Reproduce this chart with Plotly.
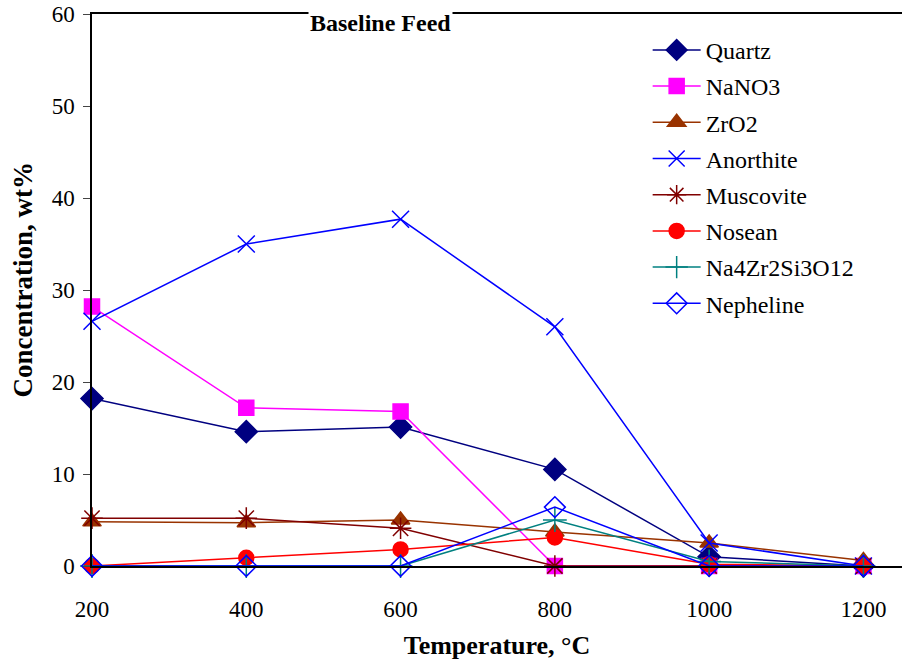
import plotly.graph_objects as go

temps = [200, 400, 600, 800, 1000, 1200]
quartz = [18.2, 14.6, 15.1, 10.5, 1.0, 0.0]
nano3 = [28.2, 17.2, 16.8, 0.0, 0.0, 0.0]
zro2 = [4.8, 4.7, 5.0, 3.7, 2.5, 0.6]
anorthite = [26.6, 35.0, 37.7, 26.0, 2.5, 0.0]
muscovite = [5.2, 5.2, 4.1, 0.0, 0.0, 0.0]
nosean = [0.0, 0.9, 1.8, 3.1, 0.2, 0.0]
na4zr = [0.0, 0.0, 0.0, 5.0, 0.5, 0.0]
nepheline = [0.0, 0.0, 0.0, 6.4, 0.0, 0.0]

series = [
    ("Quartz", quartz, "#000080", "diamond", 17, "#000080"),
    ("NaNO3", nano3, "#FF00FF", "square", 15, "#FF00FF"),
    ("ZrO2", zro2, "#993300", "triangle-up", 16, "#993300"),
    ("Anorthite", anorthite, "#0000FF", "x-thin", 17, "#0000FF"),
    ("Muscovite", muscovite, "#800000", "asterisk", 18, "#800000"),
    ("Nosean", nosean, "#FF0000", "circle", 15, "#FF0000"),
    ("Na4Zr2Si3O12", na4zr, "#008080", "cross-thin", 17, "#008080"),
    ("Nepheline", nepheline, "#0000FF", "diamond-open", 16, "#0000FF"),
]

fig = go.Figure()
for i, (name, vals, col, sym, size, mcol) in enumerate(series):
    fig.add_trace(go.Scatter(
        x=temps, y=vals, name=name, mode="lines+markers",
        legendgroup=f"g{i}", cliponaxis=False,
        line=dict(color=col, width=1.5),
        marker=dict(symbol=sym, size=size, color=mcol,
                    line=dict(color=mcol, width=1.5)),
    ))

font = "Liberation Serif"
fig.update_layout(
    width=902, height=666,
    margin=dict(l=92, r=0, t=14, b=100),
    paper_bgcolor="white", plot_bgcolor="white",
    font=dict(family=font, size=23, color="black"),
    showlegend=True,
    legend=dict(x=0.686, y=0.975, xanchor="left", yanchor="top",
                bgcolor="rgba(0,0,0,0)", font=dict(family=font, size=24),
                tracegroupgap=2, itemwidth=48),
    xaxis=dict(range=[200, 1250], tickvals=temps, ticks="",
               showline=True, linecolor="black", linewidth=1.5, mirror=True,
               showgrid=False, zeroline=False, ticklabelstandoff=22,
               tickfont=dict(family=font, size=23),
               title=dict(text="<b>Temperature, °C</b>", font=dict(family=font, size=26), standoff=14)),
    yaxis=dict(range=[0, 60], dtick=10, ticks="outside", ticklen=7,
               showline=True, linecolor="black", linewidth=1.5,
               showgrid=False, zeroline=False, ticklabelstandoff=4,
               tickfont=dict(family=font, size=23)),
    annotations=[
        dict(text="<b>Baseline Feed</b>", xref="paper", yref="paper",
             x=0.356, y=1.0, xanchor="center", yanchor="top", yshift=6,
             showarrow=False, bgcolor="white", font=dict(family=font, size=24)),
        dict(text="<b>Concentration, wt%</b>", xref="paper", yref="paper",
             x=-0.0864, y=0.3007, xanchor="center", yanchor="bottom",
             textangle=-90, showarrow=False, font=dict(family=font, size=27)),
    ],
)
fig.write_html("out.html")
